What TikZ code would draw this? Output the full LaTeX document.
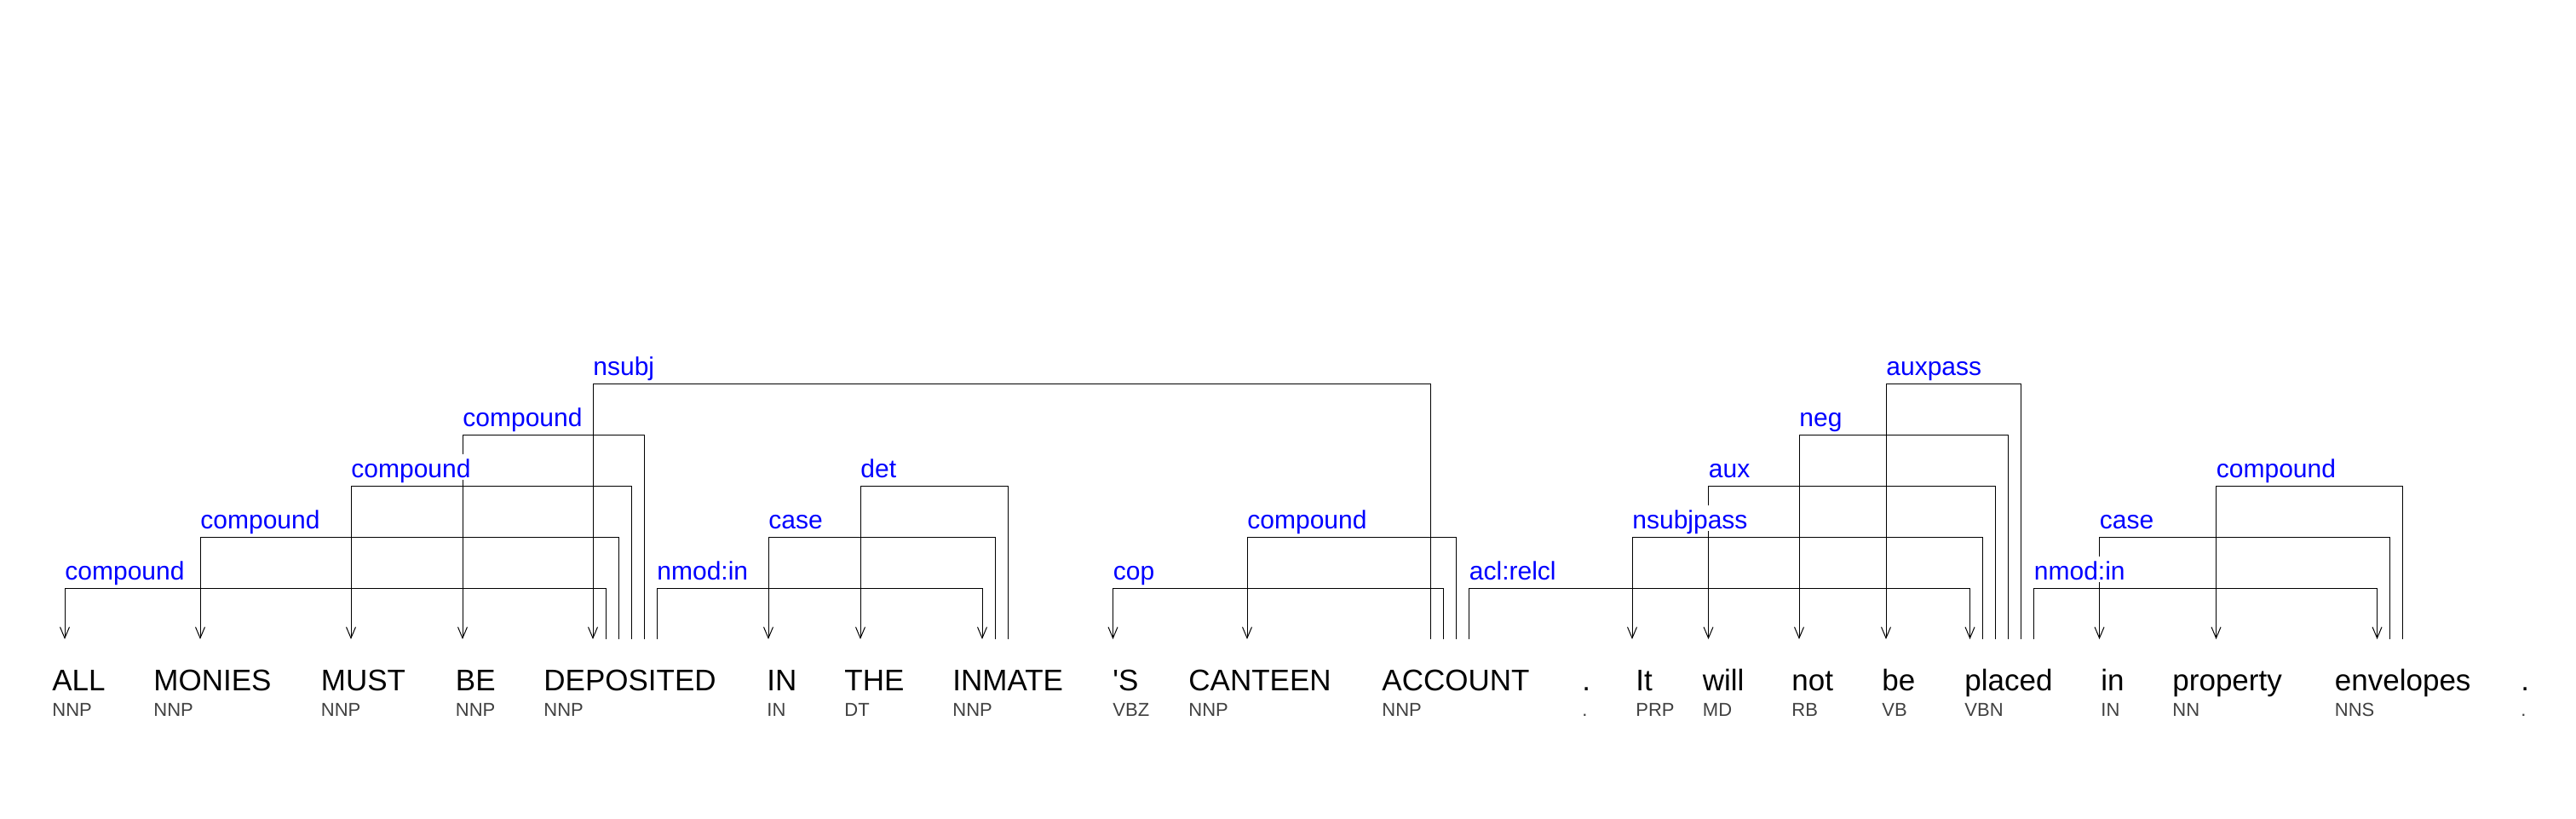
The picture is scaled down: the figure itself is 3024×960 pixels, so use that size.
\documentclass[tikz,border=0pt]{standalone}
\usepackage{fontspec}
\setmainfont{Liberation Sans}
\usetikzlibrary{arrows.meta}

\tikzset{
  word/.style={anchor=base west, inner sep=0pt, font=\fontsize{17.5}{20}\selectfont},
  tag/.style={anchor=base west, inner sep=0pt, text=black!75, font=\fontsize{11}{13}\selectfont},
  rel/.style={anchor=base west, inner sep=0pt, text height=13.5pt, text depth=1.5pt,
    fill=white, text=blue, font=\fontsize{15}{18}\selectfont},
  arc/.style={line width=0.5pt, -{Straight Barb[length=6.5pt,width=5.5pt]}}
}

\begin{document}
\begin{tikzpicture}[x=0.5pt,y=-0.5pt]
  \useasboundingbox (0,0) rectangle (3024,960);

  % words and tags
  \node[word] (all) at (61,810) {ALL};          \node[tag] (all-t) at (61,840) {NNP};
  \node[word] (monies) at (180,810) {MONIES};   \node[tag] (monies-t) at (180,840) {NNP};
  \node[word] (must) at (376.5,810) {MUST};     \node[tag] (must-t) at (376.5,840) {NNP};
  \node[word] (be1) at (534.5,810) {BE};        \node[tag] (be1-t) at (534.5,840) {NNP};
  \node[word] (dep) at (638,810) {DEPOSITED};   \node[tag] (dep-t) at (638,840) {NNP};
  \node[word] (in1) at (900,810) {IN};          \node[tag] (in1-t) at (900,840) {IN};
  \node[word] (the) at (991,810) {THE};         \node[tag] (the-t) at (991,840) {DT};
  \node[word] (inm) at (1118,810) {INMATE};     \node[tag] (inm-t) at (1118,840) {NNP};
  \node[word] (s) at (1306,810) {\textquotesingle S}; \node[tag] (s-t) at (1306,840) {VBZ};
  \node[word] (can) at (1395,810) {CANTEEN};    \node[tag] (can-t) at (1395,840) {NNP};
  \node[word] (acc) at (1622,810) {ACCOUNT};    \node[tag] (acc-t) at (1622,840) {NNP};
  \node[word] (dot1) at (1857,810) {.};         \node[tag] (dot1-t) at (1857,840) {.};
  \node[word] (it) at (1920,810) {It};          \node[tag] (it-t) at (1920,840) {PRP};
  \node[word] (will) at (1998.5,810) {will};    \node[tag] (will-t) at (1998.5,840) {MD};
  \node[word] (not) at (2103,810) {not};        \node[tag] (not-t) at (2103,840) {RB};
  \node[word] (be2) at (2209,810) {be};         \node[tag] (be2-t) at (2209,840) {VB};
  \node[word] (pl) at (2306,810) {placed};      \node[tag] (pl-t) at (2306,840) {VBN};
  \node[word] (in2) at (2466,810) {in};         \node[tag] (in2-t) at (2466,840) {IN};
  \node[word] (prop) at (2550,810) {property};  \node[tag] (prop-t) at (2550,840) {NN};
  \node[word] (env) at (2740.5,810) {envelopes};\node[tag] (env-t) at (2740.5,840) {NNS};
  \node[word] (dot2) at (2959,810) {.};         \node[tag] (dot2-t) at (2959,840) {.};

  % arc ends
  \coordinate (all-in) at (76,750);
  \coordinate (monies-in) at (235,750);
  \coordinate (must-in) at (412,750);
  \coordinate (be1-in) at (543,750);
  \coordinate (dep-in) at (696,750);
  \coordinate (dep-1) at (711,750);
  \coordinate (dep-2) at (726,750);
  \coordinate (dep-3) at (741,750);
  \coordinate (dep-4) at (756,750);
  \coordinate (dep-5) at (771,750);
  \coordinate (in1-in) at (902,750);
  \coordinate (the-in) at (1010,750);
  \coordinate (inm-in) at (1153,750);
  \coordinate (inm-1) at (1168,750);
  \coordinate (inm-2) at (1183,750);
  \coordinate (s-in) at (1306.5,750);
  \coordinate (can-in) at (1464,750);
  \coordinate (acc-1) at (1679.5,750);
  \coordinate (acc-2) at (1694.5,750);
  \coordinate (acc-3) at (1709.5,750);
  \coordinate (acc-4) at (1724.5,750);
  \coordinate (it-in) at (1916,750);
  \coordinate (will-in) at (2005.5,750);
  \coordinate (not-in) at (2112,750);
  \coordinate (be2-in) at (2214,750);
  \coordinate (pl-in) at (2312.5,750);
  \coordinate (pl-1) at (2327.5,750);
  \coordinate (pl-2) at (2342.5,750);
  \coordinate (pl-3) at (2357.5,750);
  \coordinate (pl-4) at (2372.5,750);
  \coordinate (pl-5) at (2387.5,750);
  \coordinate (in2-in) at (2464.5,750);
  \coordinate (prop-in) at (2601.5,750);
  \coordinate (env-in) at (2790.5,750);
  \coordinate (env-1) at (2805.5,750);
  \coordinate (env-2) at (2820.5,750);

  % arcs
  \draw[arc] (dep-1) -- ++(0,-60) -| (all-in);
  \draw[arc] (dep-2) -- ++(0,-120) -| (monies-in);
  \draw[arc] (dep-3) -- ++(0,-180) -| (must-in);
  \draw[arc] (dep-4) -- ++(0,-240) -| (be1-in);
  \draw[arc] (acc-1) -- ++(0,-300) -| (dep-in);
  \draw[arc] (dep-5) -- ++(0,-60) -| (inm-in);
  \draw[arc] (inm-1) -- ++(0,-120) -| (in1-in);
  \draw[arc] (inm-2) -- ++(0,-180) -| (the-in);
  \draw[arc] (acc-2) -- ++(0,-60) -| (s-in);
  \draw[arc] (acc-3) -- ++(0,-120) -| (can-in);
  \draw[arc] (acc-4) -- ++(0,-60) -| (pl-in);
  \draw[arc] (pl-1) -- ++(0,-120) -| (it-in);
  \draw[arc] (pl-2) -- ++(0,-180) -| (will-in);
  \draw[arc] (pl-3) -- ++(0,-240) -| (not-in);
  \draw[arc] (pl-4) -- ++(0,-300) -| (be2-in);
  \draw[arc] (pl-5) -- ++(0,-60) -| (env-in);
  \draw[arc] (env-1) -- ++(0,-120) -| (in2-in);
  \draw[arc] (env-2) -- ++(0,-180) -| (prop-in);

  % relation labels
  \node[rel] (r1) at (76,680) {compound};
  \node[rel] (r2) at (235,620) {compound};
  \node[rel] (r3) at (412,560) {compound};
  \node[rel] (r4) at (543,500) {compound};
  \node[rel] (r5) at (696,440) {nsubj};
  \node[rel] (r6) at (771,680) {nmod:in};
  \node[rel] (r7) at (902,620) {case};
  \node[rel] (r8) at (1010,560) {det};
  \node[rel] (r9) at (1306.5,680) {cop};
  \node[rel] (r10) at (1464,620) {compound};
  \node[rel] (r11) at (1724.5,680) {acl:relcl};
  \node[rel] (r12) at (1916,620) {nsubjpass};
  \node[rel] (r13) at (2005.5,560) {aux};
  \node[rel] (r14) at (2112,500) {neg};
  \node[rel] (r15) at (2214,440) {auxpass};
  \node[rel] (r16) at (2387.5,680) {nmod:in};
  \node[rel] (r17) at (2464.5,620) {case};
  \node[rel] (r18) at (2601.5,560) {compound};

\end{tikzpicture}
\end{document}
